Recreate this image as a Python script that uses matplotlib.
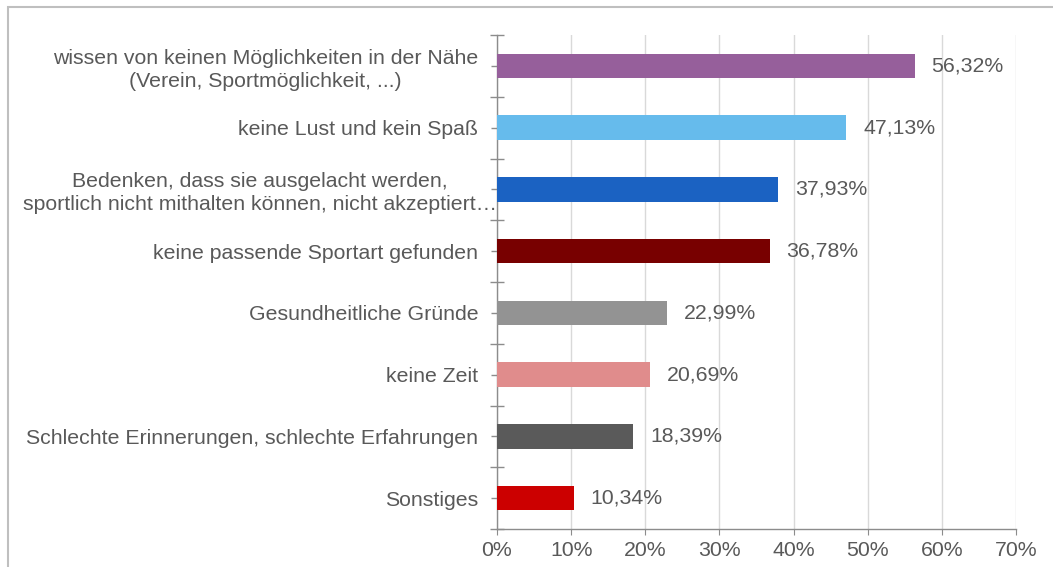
import matplotlib
matplotlib.use("Agg")
import matplotlib.pyplot as plt
from matplotlib.patches import Rectangle
from matplotlib.ticker import FixedLocator, PercentFormatter
from matplotlib.transforms import ScaledTranslation

categories = [
    "wissen von keinen Möglichkeiten in der Nähe\n(Verein, Sportmöglichkeit, ...)",
    "keine Lust und kein Spaß",
    "Bedenken, dass sie ausgelacht werden,\nsportlich nicht mithalten können, nicht akzeptiert…",
    "keine passende Sportart gefunden",
    "Gesundheitliche Gründe",
    "keine Zeit",
    "Schlechte Erinnerungen, schlechte Erfahrungen",
    "Sonstiges",
]
values = [56.32, 47.13, 37.93, 36.78, 22.99, 20.69, 18.39, 10.34]
colors = ["#965F9B", "#66BBEC", "#1B62C2", "#780000", "#939393", "#E08C8C", "#5A5A5A", "#CC0000"]
xticks = [0, 10, 20, 30, 40, 50, 60, 70]

plt.rcParams['font.family'] = ['Liberation Sans', 'DejaVu Sans']
txt = "#595959"
axc = "#8C8C8C"
fs = 15.3

fig = plt.figure(figsize=(10.53, 5.67), dpi=100)
ax = fig.add_axes([497/1053, 1 - 529/567, (1016 - 497)/1053, (529 - 35)/567])

n = len(categories)
ypos = list(range(n))
ax.barh(ypos, values, height=0.4, color=colors, zorder=3)
ax.set_ylim(n - 0.5, -0.5)
ax.set_xlim(0, 70)

for y, v in zip(ypos, values):
    ax.annotate(f"{v:.2f}%".replace(".", ","), (v, y), xytext=(12, 0),
                textcoords="offset points", va="center", ha="left",
                fontsize=fs, color=txt)

ax.set_xticks(xticks)
ax.xaxis.set_major_formatter(PercentFormatter(decimals=0))
ax.grid(axis="x", color="#D9D9D9", linewidth=1, zorder=0)
ax.set_axisbelow(True)

ax.yaxis.set_major_locator(FixedLocator([i - 0.5 for i in range(n + 1)]))
ax.yaxis.set_minor_locator(FixedLocator(ypos))
ax.set_yticklabels([""] * (n + 1))
ax.set_yticks(ypos, minor=True)
ax.set_yticklabels(categories, minor=True, fontsize=fs, color=txt, ha="right",
                   multialignment="center", linespacing=1.25)
ax.tick_params(axis="y", which="major", direction="inout", length=10, color=axc, width=1)
ax.tick_params(axis="y", which="minor", direction="inout", length=8, color=axc, width=1, pad=9.5)
ax.tick_params(axis="x", which="major", direction="out", length=4, color=axc,
               labelsize=fs, labelcolor=txt, pad=5)

# the long, truncated label reaches up to the axis line
lbl = ax.yaxis.get_minorticklabels()[2]
lbl.set_transform(lbl.get_transform() + ScaledTranslation(19/100, 0, fig.dpi_scale_trans))

for s in ["top", "right"]:
    ax.spines[s].set_visible(False)
for s in ["left", "bottom"]:
    ax.spines[s].set_color(axc)
    ax.spines[s].set_linewidth(1)

fig.patches.append(Rectangle((7.5/1053, -0.1), 1.2, 1 - 6.5/567 + 0.1,
                             transform=fig.transFigure, fill=False,
                             edgecolor="#BFBFBF", linewidth=1.5))

fig.savefig("out.png", dpi=100)
